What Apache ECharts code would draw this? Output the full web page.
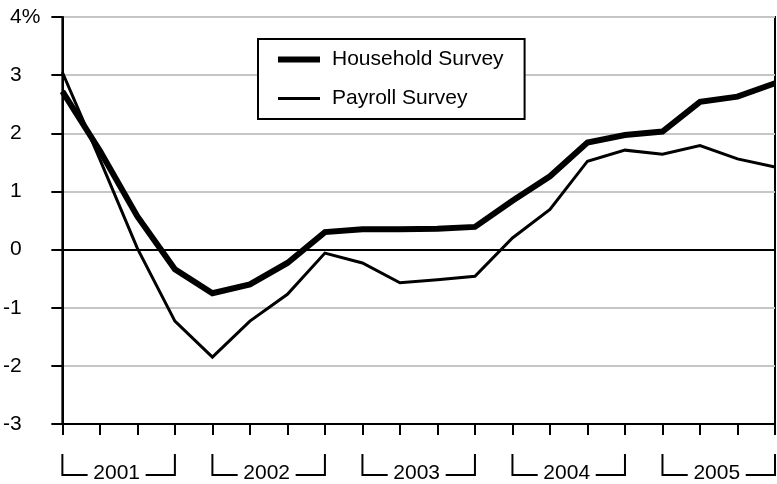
<!DOCTYPE html>
<html><head><meta charset="utf-8">
<script src="https://cdn.jsdelivr.net/npm/echarts@6/dist/echarts.min.js"></script>
<style>html,body{margin:0;padding:0;background:#fff}#c{width:777px;height:484px}</style>
</head><body><div id="c"></div>
<script>
const quarters = ['2001Q1','2001Q2','2001Q3','2001Q4','2002Q1','2002Q2','2002Q3','2002Q4',
  '2003Q1','2003Q2','2003Q3','2003Q4','2004Q1','2004Q2','2004Q3','2004Q4',
  '2005Q1','2005Q2','2005Q3','2005Q4'];
const household = [2.72, 1.70, 0.57, -0.34, -0.75, -0.60, -0.23, 0.30, 0.35, 0.35, 0.36, 0.39,
  0.84, 1.26, 1.84, 1.97, 2.03, 2.54, 2.63, 2.86];
const payroll = [3.05, 1.55, 0.02, -1.23, -1.85, -1.23, -0.77, -0.06, -0.23, -0.57, -0.52, -0.46,
  0.20, 0.69, 1.52, 1.71, 1.64, 1.79, 1.56, 1.42];
const years = ['2001','2002','2003','2004','2005'];
const yMin = -3, yMax = 4, yStep = 1;

const FONT = '"Liberation Sans", Arial, Helvetica, sans-serif';
const FS = 21;
const bracketData = years.map((y, k) => [k * 4, k * 4 + 3, yMin]);

const chart = echarts.init(document.getElementById('c'), null, {renderer: 'canvas'});
chart.setOption({
  animation: false,
  backgroundColor: '#fff',
  textStyle: {fontFamily: FONT, color: '#000'},
  grid: {left: 62, right: 2, top: 17, bottom: 60, show: true, borderColor: '#000', borderWidth: 2, containLabel: false},
  legend: {
    orient: 'vertical', left: 258, top: 39,
    data: [
      {name: 'Household Survey', icon: 'path://M0,0H42V6H0Z'},
      {name: 'Payroll Survey', icon: 'path://M0,0H42V3H0Z'}
    ],
    itemWidth: 42, itemHeight: 21, itemGap: 18,
    padding: [10, 21, 10, 20],
    borderColor: '#000', borderWidth: 2, backgroundColor: '#fff',
    itemStyle: {color: '#000', borderWidth: 0},
    textStyle: {fontFamily: FONT, fontSize: FS, color: '#000', padding: [0, 0, 0, 7]},
    selectedMode: false
  },
  xAxis: {
    type: 'category', data: quarters, boundaryGap: false,
    axisLine: {onZero: false, lineStyle: {color: '#000', width: 2}},
    axisTick: {show: true, interval: 0, length: 11, lineStyle: {color: '#000', width: 2}},
    axisLabel: {show: false, interval: 0},
    splitLine: {show: false}
  },
  yAxis: {
    type: 'value', min: yMin, max: yMax, interval: yStep,
    axisLine: {show: true, lineStyle: {color: '#000', width: 2}},
    axisTick: {show: true, length: 11, lineStyle: {color: '#000', width: 2}},
    axisLabel: {
      margin: 22, fontSize: FS, color: '#000', fontFamily: FONT, align: 'right',
      formatter: v => v === yMax ? v + '%' : v + '{s| }',
      rich: {s: {width: 18.7, fontSize: FS}}
    },
    splitLine: {show: true, lineStyle: {color: '#c6c6c6', width: 2}}
  },
  series: [
    {
      name: 'Household Survey', type: 'line', data: household,
      symbol: 'none', z: 4,
      lineStyle: {color: '#000', width: 6, join: 'miter', cap: 'butt'},
      itemStyle: {color: '#000'},
      markLine: {
        silent: true, symbol: 'none', label: {show: false},
        lineStyle: {color: '#000', width: 2, type: 'solid'},
        data: [{yAxis: 0}]
      }
    },
    {
      name: 'Payroll Survey', type: 'line', data: payroll,
      symbol: 'none', z: 4,
      lineStyle: {color: '#000', width: 3, join: 'miter', cap: 'butt'},
      itemStyle: {color: '#000'}
    },
    {
      type: 'custom', data: bracketData, clip: false, silent: true,
      encode: {x: [0, 1], y: 2},
      renderItem: function (params, api) {
        const s = api.coord([api.value(0), api.value(2)]);
        const e = api.coord([api.value(1), api.value(2)]);
        const yTop = s[1] + 30, yBot = s[1] + 51;
        const cx = (s[0] + e[0]) / 2 - 2;
        const half = 29;
        const st = {stroke: '#000', lineWidth: 2, fill: null};
        return {type: 'group', children: [
          {type: 'polyline', shape: {points: [[s[0], yTop], [s[0], yBot], [cx - half, yBot]]}, style: st},
          {type: 'polyline', shape: {points: [[cx + half, yBot], [e[0], yBot], [e[0], yTop]]}, style: st},
          {type: 'text', x: cx, y: yBot - 2, style: {text: years[params.dataIndex], fill: '#000',
            font: FS + 'px ' + FONT, align: 'center', verticalAlign: 'middle'}}
        ]};
      }
    }
  ]
});
</script></body></html>
